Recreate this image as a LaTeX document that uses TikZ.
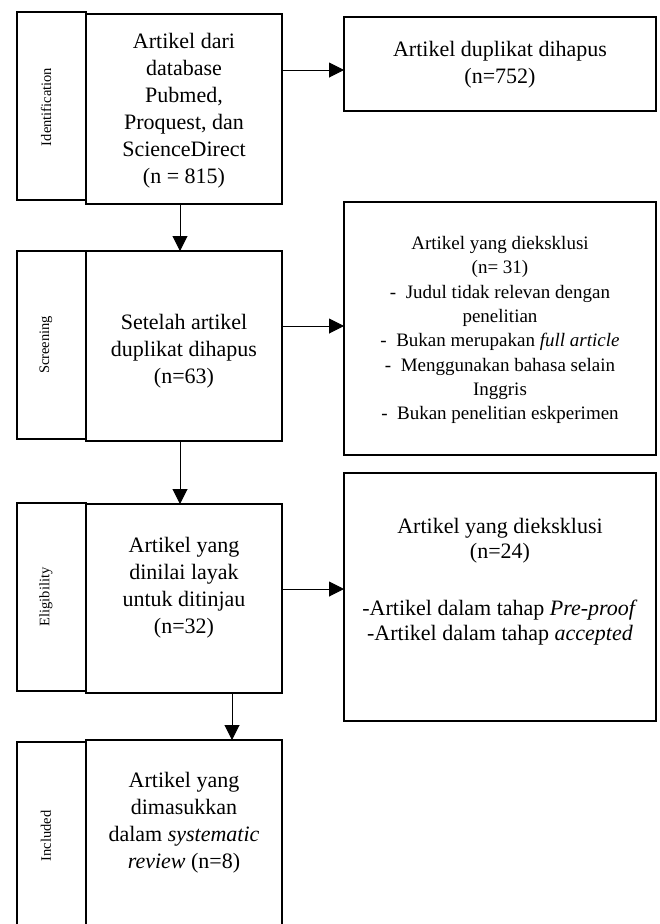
\documentclass[tikz,border=0pt]{standalone}
\usepackage{fontspec}
\setmainfont{Liberation Serif}
\usetikzlibrary{arrows.meta}
\begin{document}
\begin{tikzpicture}[x=1pt,y=-1pt,
  box/.style={draw=black,line width=1.4pt,inner sep=0pt,outer sep=0pt,rectangle},
  side/.style={box,minimum width=69pt,minimum height=188pt},
  mainbox/.style={box,minimum width=196pt,minimum height=190pt},
  rbox/.style={box,minimum width=312pt},
  bigtxt/.style={align=center,font=\fontsize{22}{27}\selectfont,inner sep=0pt},
  midtxt/.style={align=center,font=\fontsize{19}{24.3}\selectfont,inner sep=0pt},
  rtxt/.style={align=center,font=\fontsize{22}{25}\selectfont,inner sep=0pt},
  sidetxt/.style={rotate=90,font=\fontsize{14.5}{16}\selectfont,inner sep=0pt},
  arr/.style={line width=1pt,-{Triangle[length=15pt,width=15pt]}}]
\useasboundingbox (0,0) rectangle (660,924);
\clip (0,0) rectangle (660,924);
% side boxes
\node[side] (ids) at (51.5,106) {};
\node[side] (scs) at (51.5,345) {};
\node[side] (els) at (51.5,597) {};
\node[side] (ins) at (51.5,836) {};
\node[sidetxt] (idl) at (46,107) {Identification};
\node[sidetxt] (scl) at (46,345) {Screening};
\node[sidetxt] (ell) at (46,597) {Eligibility};
\node[sidetxt] (inl) at (46,836) {Included};
% main boxes
\node[mainbox] (idm) at (184,109) {};
\node[mainbox] (scm) at (184,346) {};
\node[mainbox,minimum height=189pt] (elm) at (184,598.5) {};
\node[mainbox] (inm) at (184,835) {};
\node[bigtxt] (idt) at (184,111) {Artikel dari\\database\\Pubmed,\\Proquest, dan\\ScienceDirect\\(n = 815)};
\node[bigtxt] (sct) at (184,351) {Setelah artikel\\duplikat dihapus\\(n=63)};
\node[bigtxt] (elt) at (184,588) {Artikel yang\\dinilai layak\\untuk ditinjau\\(n=32)};
\node[bigtxt] (int) at (184,823) {Artikel yang\\dimasukkan\\dalam \textit{systematic}\\\textit{review} (n=8)};
% right boxes
\node[rbox,minimum height=94pt] (dup) at (500,64) {};
\node[rbox,minimum height=253pt] (scx) at (500,328.5) {};
\node[rbox,minimum height=248pt] (elx) at (500,597) {};
\node[rtxt,font=\fontsize{22}{26.7}\selectfont] (dupt) at (500,65) {Artikel duplikat dihapus\\(n=752)};
\node[midtxt] (scxt) at (500,330) {Artikel yang dieksklusi\\(n= 31)\\-\ \ Judul tidak relevan dengan\\penelitian\\-\ \ Bukan merupakan \textit{full article}\\-\ \ Menggunakan bahasa selain\\Inggris\\-\ \ Bukan penelitian eskperimen};
\node[rtxt] (elxt) at (500,582) {Artikel yang dieksklusi\\(n=24)\\[32pt]-Artikel dalam tahap \textit{Pre-proof}\\-Artikel dalam tahap \textit{accepted}};
% connector helpers
\coordinate (h1) at (0,70);
\coordinate (h2) at (0,326);
\coordinate (h3) at (0,589);
\coordinate (v1) at (180,0);
\coordinate (v2) at (232,0);
% connectors
\draw[arr] (idm.east |- h1) -- (dup.west |- h1);
\draw[arr] (scm.east |- h2) -- (scx.west |- h2);
\draw[arr] (elm.east |- h3) -- (elx.west |- h3);
\draw[arr] (idm.south -| v1) -- (scm.north -| v1);
\draw[arr] (scm.south -| v1) -- (elm.north -| v1);
\draw[arr] (elm.south -| v2) -- (inm.north -| v2);
\end{tikzpicture}
\end{document}
